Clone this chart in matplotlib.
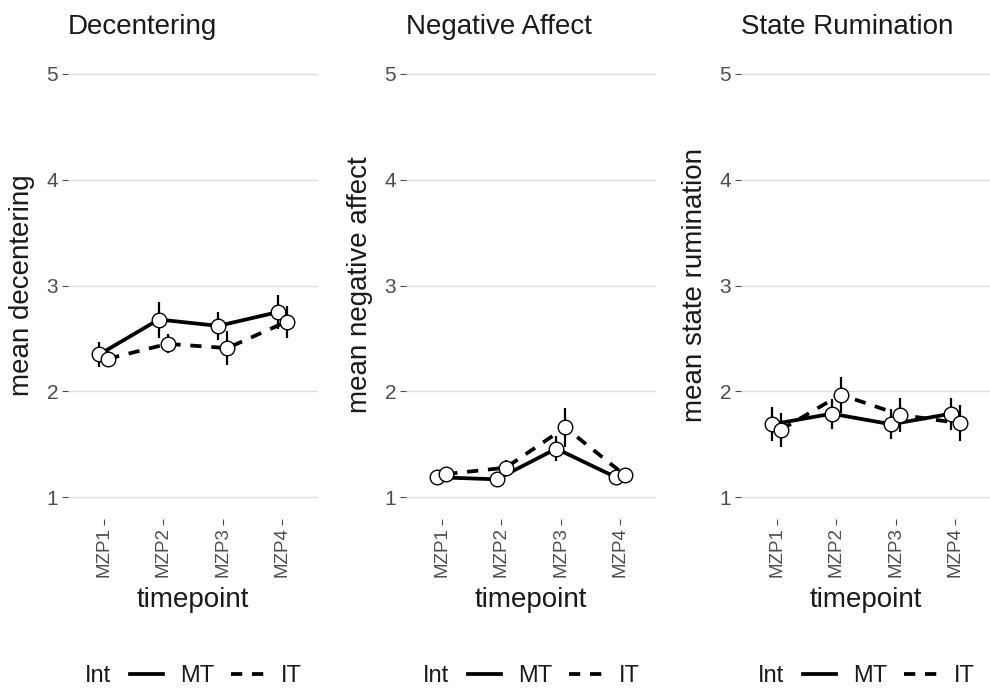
import matplotlib
matplotlib.use('Agg')
import matplotlib.pyplot as plt
from matplotlib.lines import Line2D
from matplotlib.transforms import ScaledTranslation
import numpy as np

plt.rcParams['font.family'] = ['Liberation Sans', 'DejaVu Sans']

timepoints = ['MZP1', 'MZP2', 'MZP3', 'MZP4']
titles = ['Decentering', 'Negative Affect', 'State Rumination']
ylabels = ['mean decentering', 'mean negative affect', 'mean state rumination']

# MT (solid) and IT (dashed) means with error half-widths
dec_mt = [2.35, 2.68, 2.62, 2.75]
dec_mt_err = [0.12, 0.17, 0.13, 0.16]
dec_it = [2.31, 2.45, 2.41, 2.66]
dec_it_err = [0.08, 0.09, 0.16, 0.15]

na_mt = [1.19, 1.17, 1.46, 1.19]
na_mt_err = [0.04, 0.04, 0.12, 0.04]
na_it = [1.22, 1.28, 1.66, 1.21]
na_it_err = [0.05, 0.07, 0.18, 0.05]

rum_mt = [1.69, 1.79, 1.69, 1.79]
rum_mt_err = [0.16, 0.14, 0.14, 0.15]
rum_it = [1.64, 1.97, 1.78, 1.70]
rum_it_err = [0.16, 0.17, 0.16, 0.17]

panels = [
    (dec_mt, dec_mt_err, dec_it, dec_it_err),
    (na_mt, na_mt_err, na_it, na_it_err),
    (rum_mt, rum_mt_err, rum_it, rum_it_err),
]

W, H = 990, 689
fig = plt.figure(figsize=(W / 100, H / 100), dpi=100)

lefts = [68, 406, 741]
pw = 250
top_px, bot_px = 52.8, 518.5
dash = (0, (3, 2.6))
x = np.arange(1, 5)
dodge = 0.075

for i, (mt, mt_e, it, it_e) in enumerate(panels):
    ax = fig.add_axes([lefts[i] / W, 1 - bot_px / H, pw / W, (bot_px - top_px) / H])
    for s in ax.spines.values():
        s.set_visible(False)
    ax.set_xlim(0.4, 4.6)
    ax.set_ylim(0.8, 5.2)
    ax.set_yticks([1, 2, 3, 4, 5])
    ax.yaxis.grid(True, color='#dcdcdc', lw=1)
    ax.set_axisbelow(True)
    ax.set_xticks(x)
    ax.set_xticklabels(timepoints, rotation=90, fontsize=13.5, color='#4d4d4d')
    for lab in ax.get_xticklabels():
        lab.set_transform(lab.get_transform() + ScaledTranslation(0.05, 0, fig.dpi_scale_trans))
    ax.tick_params(axis='y', labelsize=15, labelcolor='#4d4d4d', length=4, width=0.8, color='#4d4d4d', pad=3)
    ax.tick_params(axis='x', length=4, width=0.8, color='#4d4d4d', pad=2)

    ax.plot(x - dodge, mt, color='black', lw=2.7, zorder=2)
    ax.plot(x + dodge, it, color='black', lw=2.7, ls=dash, zorder=2)
    ax.errorbar(x - dodge, mt, yerr=mt_e, fmt='none', ecolor='black', elinewidth=1.6, capsize=0, zorder=3)
    ax.errorbar(x + dodge, it, yerr=it_e, fmt='none', ecolor='black', elinewidth=1.6, capsize=0, zorder=3)
    ax.plot(x - dodge, mt, 'o', ms=10.5, mfc='white', mec='black', mew=1, zorder=4)
    ax.plot(x + dodge, it, 'o', ms=10.5, mfc='white', mec='black', mew=1, zorder=4)

    fig.text(lefts[i] / W, 1 - 27 / H, titles[i], fontsize=20, color='#1a1a1a', ha='left', va='center')
    fig.text((lefts[i] - 46) / W, 1 - 285 / H, ylabels[i], fontsize=20, color='#1a1a1a',
             rotation=90, ha='center', va='center')
    cx = lefts[i] + pw / 2
    fig.text(cx / W, 1 - 600 / H, 'timepoint', fontsize=20, color='#1a1a1a', ha='center', va='center')

    # legend: title on the left, two keys in a row
    fig.text((cx - 108) / W, 1 - 676 / H, 'Int', fontsize=17, color='#1a1a1a', ha='left', va='center')
    handles = [Line2D([], [], color='black', lw=2.7),
               Line2D([], [], color='black', lw=2.7, ls=dash)]
    fig.legend(handles, ['MT', 'IT'], ncol=2, frameon=False, fontsize=17,
               loc='center left', bbox_to_anchor=((cx - 63) / W, 1 - 676 / H),
               handlelength=1.4, handletextpad=0.72, columnspacing=0.72,
               borderaxespad=0, borderpad=0, labelcolor='#1a1a1a')

fig.savefig('out.png', dpi=100)
